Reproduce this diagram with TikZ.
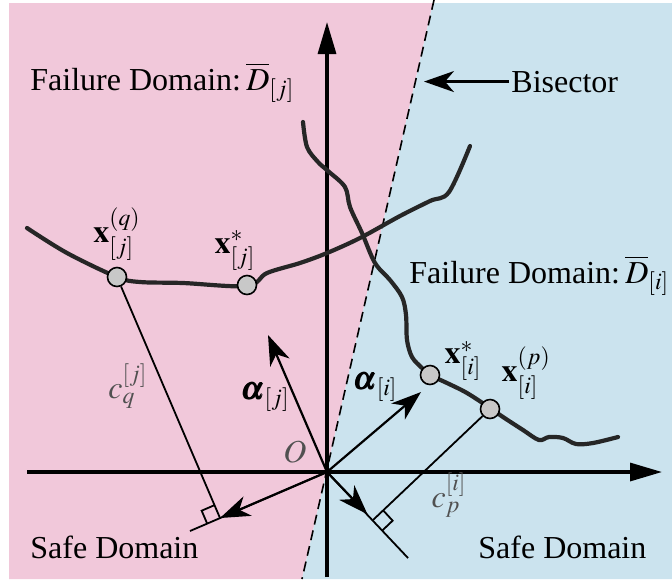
\documentclass[tikz,border=0pt]{standalone}
\usepackage{mathptmx}
\usepackage[no-math]{fontspec}
\setmainfont{Liberation Serif}
\usepackage{bm}
\usetikzlibrary{positioning,arrows.meta,calc}
\definecolor{failpink}{RGB}{241,200,218}
\definecolor{safeblue}{RGB}{203,227,238}
\definecolor{mppgray}{RGB}{200,200,200}
\definecolor{lblgray}{RGB}{80,80,80}

\begin{document}
\begin{tikzpicture}[
    x=0.5pt, y=-0.5pt,
    every node/.style={font=\fontsize{16}{19}\selectfont},
    axis/.style={line width=1.6pt, -{Triangle[length=16pt,width=9pt]}},
    vec/.style={line width=1.1pt, -{Stealth[length=15pt,width=10.5pt,inset=4.5pt]}},
    aux/.style={line width=0.9pt},
    lsf/.style={line width=2.1pt, color=black!85, line cap=round, line join=round},
    mpp/.style={circle, draw, line width=0.8pt, fill=mppgray, minimum size=9.5pt, inner sep=0pt},
    lbl/.style={inner sep=1pt}
]
\useasboundingbox (0,0) rectangle (672,579);

% domains
\coordinate (bisT) at (433,3);
\coordinate (bisB) at (302,579);
\fill[failpink] (9,3) -- (bisT) -- (bisB) -- (9,579) -- cycle;
\fill[safeblue] (bisT) -- (672,3) -- (672,579) -- (bisB) -- cycle;
\draw[line width=0.8pt, dash pattern=on 5pt off 3pt] (434,0) -- (bisB);

% axes
\coordinate (O) at (327,472);
\coordinate (xleft) at (27,472);
\coordinate (xright) at (662,472);
\coordinate (ybot) at (327,577);
\coordinate (ytop) at (327,22);
\draw[axis] (xleft) -- (xright);
\draw[axis] (ybot) -- (ytop);

% limit state surfaces
\draw[lsf] plot[smooth, tension=0.55] coordinates {
    (27,228) (67,253) (117,277) (140,282) (183,283) (247,286)
    (267,273) (300,263) (327,253) (360,238) (400,216) (430,201)
    (449,192) (470,146)};
\draw[lsf] plot[smooth, tension=0.55] coordinates {
    (303,122) (307,147) (318,162) (328,171) (345,187) (350,207)
    (362,233) (375,263) (390,280) (402,297) (406,315) (407,340)
    (412,357) (422,368) (430,375) (447,383) (467,393) (490,408)
    (503,417) (523,430) (539,440) (549,437) (563,438) (576,444)
    (593,443) (618,437)};

% design points
\node[mpp] (xq) at (117,277) {};
\node[mpp] (xjs) at (247,285) {};
\node[mpp] (xis) at (430,375) {};
\node[mpp] (xp) at (490,409) {};

\node[lbl, above=2pt of xq] (xqlbl) {$\mathbf{x}_{[j]}^{(q)}$};
\node[lbl, above=1pt of xjs, xshift=-6pt] (xjslbl) {$\mathbf{x}_{[j]}^{*}$};
\node[lbl, right=1pt of xis, yshift=7pt] (xislbl) {$\mathbf{x}_{[i]}^{*}$};
\node[lbl, above right=0pt and 1pt of xp] (xplbl) {$\mathbf{x}_{[i]}^{(p)}$};

% projections
\coordinate (Fj) at (220,518);
\coordinate (lendj) at (190,531);
\coordinate (Fi) at (373,520);
\coordinate (lendi) at (408,558);
\coordinate (aj) at (268,335);
\coordinate (ai) at (421,392);

\draw[aux] (O) -- (lendj);
\draw[aux] (O) -- (lendi);
\draw[aux] (xq) -- (Fj);
\draw[aux] (xp) -- (Fi);

\coordinate (rj1) at ($(Fj)!7pt!(xq)$);
\coordinate (rj2) at ($(Fj)!7pt!(lendj)$);
\draw[aux] (rj1) -- ($(rj1)+(rj2)-(Fj)$) -- (rj2);
\coordinate (ri1) at ($(Fi)!7pt!(xp)$);
\coordinate (ri2) at ($(Fi)!7pt!(lendi)$);
\draw[aux] (ri1) -- ($(ri1)+(ri2)-(Fi)$) -- (ri2);

\draw[vec] (O) -- (aj);
\draw[vec] (O) -- (ai);
\draw[vec] (O) -- (Fj);
\draw[vec] (O) -- ($(O)!0.88!(Fi)$);

\node[lbl] (alj) at (265,397) {$\bm{\alpha}_{[j]}$};
\node[lbl] (ali) at (375,387) {$\bm{\alpha}_{[i]}$};
\node[lbl, text=lblgray] (olbl) at (295,452) {$O$};
\node[lbl, text=lblgray] (cq) at (128,386) {$c_q^{[j]}$};
\node[lbl, text=lblgray] (cp) at (449,495) {$c_p^{[i]}$};

% domain names
\node[lbl, anchor=base west] (failj) at (28,90) {Failure Domain:\,$\overline{D}_{[j]}$};
\node[lbl, anchor=base west] (faili) at (407,283) {Failure Domain:\,$\overline{D}_{[i]}$};
\node[lbl, anchor=base west] (safej) at (28,558) {Safe Domain};
\node[lbl, anchor=base west] (safei) at (476,558) {Safe Domain};

\node[lbl, anchor=base west] (bis) at (509,92) {Bisector};
\coordinate (bistip) at (424,81);
\draw[vec] (bis.west) -- (bistip |- bis.west);

\end{tikzpicture}
\end{document}
